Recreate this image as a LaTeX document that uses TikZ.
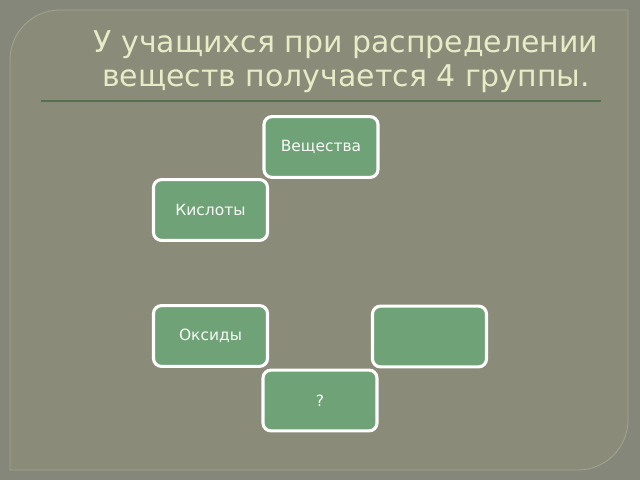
\documentclass[tikz,border=0pt]{standalone}
\usepackage{fontspec}
\setmainfont{DejaVu Sans}
\usetikzlibrary{positioning}
\definecolor{fon}{HTML}{85877A}
\definecolor{panelfon}{HTML}{8A8B79}
\definecolor{panelkant}{HTML}{A2A490}
\definecolor{zelen}{HTML}{6FA277}
\definecolor{liniya}{HTML}{55704F}
\definecolor{zagolovok}{HTML}{E8ECC6}

\begin{document}
\begin{tikzpicture}[x=0.025cm, y=-0.025cm,
	box/.style = {draw=white, line width=2.2pt, fill=zelen, rounded corners=0.2cm,
		minimum width=2.85cm, minimum height=1.52cm, inner sep=0pt,
		text=white!95!zelen, font=\fontsize{11}{13}\selectfont}]

	\useasboundingbox (0,0) rectangle (640,480);
	\fill[fon] (0,0) rectangle (640,480);
	\draw[panelkant, fill=panelfon, line width=0.6pt] (10,470) -- (10,60) arc[start angle=180, end angle=90, radius=1.25cm]
		-- (628,10) -- (628,420) arc[start angle=0, end angle=-90, radius=1.25cm] -- cycle;

	\node[text=zagolovok, align=center, font=\fontsize{21.3}{24.2}\selectfont] (title) at (346,62)
		{У учащихся при распределении\\веществ получается 4 группы.};
	\coordinate (l1) at (41,101);
	\coordinate (l2) at (601,101);
	\draw[liniya, line width=1.1pt] (l1) -- (l2);

	\node[box] (veshch) at (321,147) {Вещества};
	\node[box] (kisl) at (210.5,210) {Кислоты};
	\node[box] (oks) at (210.5,336) {Оксиды};
	\node[box] (pust) at (429.5,336.5) {};
	\node[box] (vopr) at (320,400.5) {?};
\end{tikzpicture}
\end{document}
